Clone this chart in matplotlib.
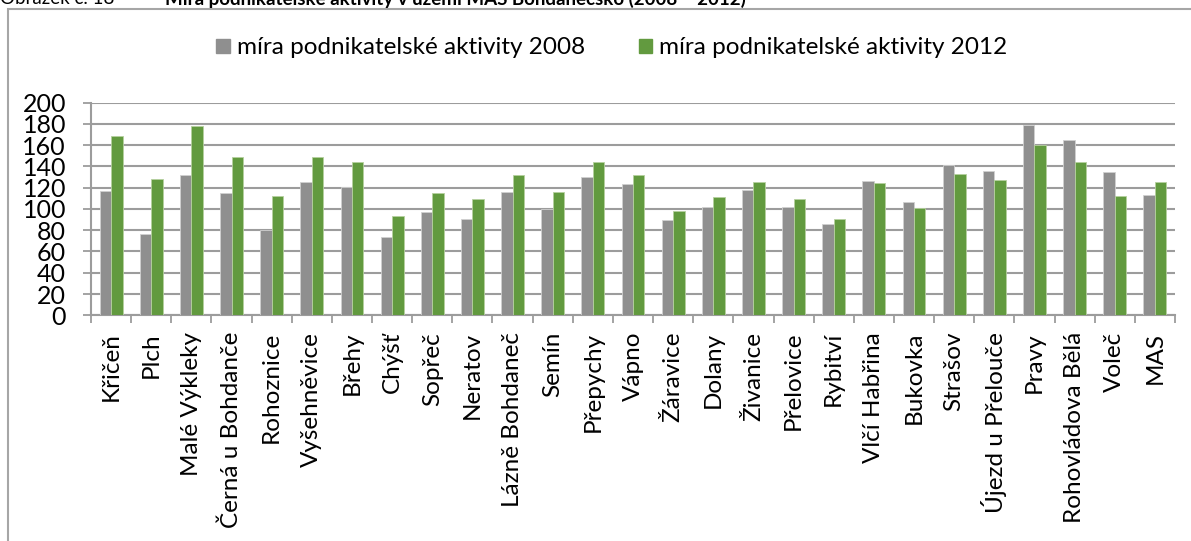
import numpy as np
import matplotlib.pyplot as plt
from matplotlib.patches import Patch, Rectangle

plt.rcParams['font.family'] = ['Lato', 'DejaVu Sans']

obce = ['Křičeň', 'Plch', 'Malé Výkleky', 'Černá u Bohdanče', 'Rohoznice',
        'Vyšehněvice', 'Břehy', 'Chýšť', 'Sopřeč', 'Neratov', 'Lázně Bohdaneč',
        'Semín', 'Přepychy', 'Vápno', 'Žáravice', 'Dolany', 'Živanice',
        'Přelovice', 'Rybitví', 'Vlčí Habřina', 'Bukovka', 'Strašov',
        'Újezd u Přelouče', 'Pravy', 'Rohovládova Bělá', 'Voleč', 'MAS']
mira_2008 = [117, 76, 132, 115, 80, 125, 121, 74, 97, 91, 116, 100, 130, 123,
             90, 102, 118, 102, 86, 126, 107, 141, 136, 179, 165, 135, 113]
mira_2012 = [169, 128, 178, 149, 112, 149, 144, 93, 115, 109, 132, 116, 144, 132,
             98, 111, 125, 109, 91, 124, 101, 133, 127, 160, 144, 112, 125]

seda = '#8f8f8f'
zelena = '#629a3f'
mrizka = '#9c9c9c'

W, H = 1191, 541
fig = plt.figure(figsize=(W / 100, H / 100), dpi=100)

# ramecek grafu
fig.patches.append(Rectangle((8 / W, -0.1), 1.2, 1 - 9 / H + 0.1, transform=fig.transFigure,
                             fill=False, edgecolor='#a6a6a6', lw=1.5))

# nadpis (v originale oriznuty nahore)
fig.text(0.0, 1 + 1 / H, 'Obrázek č. 18', fontsize=13.5, va='center', ha='left')
fig.text(165 / W, 1 + 1 / H, 'Míra podnikatelské aktivity v území MAS Bohdanečsko (2008 – 2012)',
         fontsize=13.5, fontweight='bold', va='center', ha='left')

ax = fig.add_axes([91 / W, (H - 315.3) / H, (1175 - 91) / W, 212.7 / H])

x = np.arange(len(obce))
w = 0.285
ax.bar(x - w / 2, mira_2008, w, color=seda, edgecolor='#d0d0d0', lw=0.6, zorder=3)
ax.bar(x + w / 2, mira_2012, w, color=zelena, edgecolor='#b5d09f', lw=0.6, zorder=3)

ax.set_xlim(-0.5, len(obce) - 0.5)
ax.set_ylim(0, 200)
ax.set_yticks(np.arange(0, 201, 20))
ax.tick_params(axis='y', labelsize=18, length=6, width=1.3, color=mrizka, pad=12)
ax.yaxis.grid(True, color=mrizka, lw=1.5, zorder=0)

ax.set_xticks(x)
ax.set_xticklabels(obce, rotation=90, fontsize=17.5, va='top', ha='center')
ax.set_xticks(np.arange(-0.5, len(obce), 1), minor=True)
ax.tick_params(axis='x', which='major', length=0, pad=12)
ax.tick_params(axis='x', which='minor', length=6, width=1.3, color=mrizka)

for s in ['top', 'right']:
    ax.spines[s].set_visible(False)
for s in ['left', 'bottom']:
    ax.spines[s].set_color(mrizka)
    ax.spines[s].set_linewidth(1.5)

handles = [Patch(color=seda, label='míra podnikatelské aktivity 2008'),
           Patch(color=zelena, label='míra podnikatelské aktivity 2012')]
fig.legend(handles=handles, loc='center', bbox_to_anchor=(612 / W, 1 - 48 / H), ncol=2,
           frameon=False, fontsize=17.5, handlelength=0.55, handleheight=0.55,
           handletextpad=0.3, columnspacing=2.2)

fig.savefig('out.png', dpi=100)
